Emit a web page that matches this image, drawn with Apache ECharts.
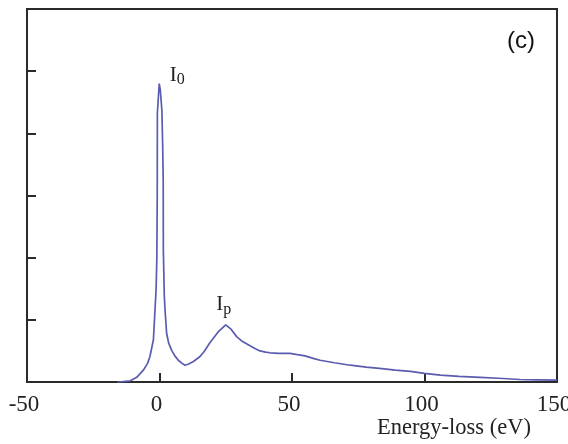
<!DOCTYPE html>
<html>
<head>
<meta charset="utf-8">
<script src="https://cdn.jsdelivr.net/npm/echarts@6/dist/echarts.min.js"></script>
<style>
  html, body { margin: 0; padding: 0; background: #fff; overflow: hidden; }
  #chart { width: 568px; height: 444px; }
</style>
</head>
<body>
<div id="chart"></div>
<script>
// EELS spectrum: energy loss (eV) vs intensity (arb. units)
const energy = [-16, -14.9, -13, -11, -8.6, -6.1, -4.5, -3.6, -2.3, -1.7, -1.3, -1.0, -0.85, -0.8,
  -0.1, 0.3, 0.9, 1.2, 1.4, 1.45, 1.8, 2.1, 2.7, 3.5, 4.6, 5.8, 7.1, 8.5, 9.6, 11, 12.8, 15.3,
  17, 19, 22.2, 25, 27, 29.1, 31, 33.5, 36, 37.9, 40, 41.7, 45, 49.2, 52, 54.9, 58, 60.6, 66,
  72, 78, 83, 89, 94.7, 100, 106, 113, 121, 128, 136, 143, 150];
const intensity = [0, 0, 0.01, 0.02, 0.075, 0.19, 0.3, 0.41, 0.68, 1.16, 1.48, 2.0, 3.0, 4.33,
  4.80, 4.7, 4.37, 3.8, 3.25, 2.12, 1.4, 1.15, 0.78, 0.62, 0.51, 0.42, 0.35, 0.3, 0.27, 0.29, 0.33, 0.41,
  0.5, 0.63, 0.81, 0.92, 0.85, 0.73, 0.66, 0.60, 0.54, 0.50, 0.48, 0.47, 0.46, 0.46, 0.44, 0.42, 0.38, 0.35, 0.31,
  0.27, 0.24, 0.22, 0.19, 0.17, 0.14, 0.11, 0.09, 0.075, 0.06, 0.04, 0.035, 0.03];
const xTicks = [-50, 0, 50, 100, 150];
// peak labels: zero-loss peak and plasmon peak
const peakNames = ['0', 'p'];
const peakIndex = [14, 35];

const serif = '"Liberation Serif", "DejaVu Serif", serif';
const axisColor = '#2a2a2a';

const chart = echarts.init(document.getElementById('chart'));
chart.setOption({
  animation: false,
  grid: {
    left: 27, right: 11, top: 9, bottom: 62,
    outerBoundsMode: 'none', containLabel: false,
    show: true, borderColor: axisColor, borderWidth: 2
  },
  xAxis: {
    type: 'value', min: xTicks[0], max: xTicks[xTicks.length - 1], interval: 50,
    axisLine: { show: true, onZero: false, lineStyle: { color: axisColor, width: 2 } },
    axisTick: { show: true, inside: true, length: 9, lineStyle: { color: axisColor, width: 2 } },
    axisLabel: {
      color: '#222', fontFamily: serif, fontSize: 23, margin: 11,
      padding: [0, 6, 0, 0],
      showMinLabel: true, showMaxLabel: true
    },
    splitLine: { show: false }
  },
  yAxis: {
    type: 'value', min: 0, max: 6, interval: 1,
    axisLine: { show: true, onZero: false, lineStyle: { color: axisColor, width: 2 } },
    axisTick: { show: true, inside: true, length: 9, lineStyle: { color: axisColor, width: 2 } },
    axisLabel: { show: false },
    splitLine: { show: false }
  },
  series: [{
    type: 'line',
    data: energy.map((e, i) => [e, intensity[i]]),
    showSymbol: false,
    lineStyle: { color: '#5b5cb0', width: 1.7 },
    markPoint: {
      symbol: 'circle', symbolSize: 1,
      itemStyle: { color: 'rgba(0,0,0,0)' },
      data: peakIndex.map((k, j) => ({
        coord: [energy[k], intensity[k]],
        label: {
          show: true,
          position: j === 0 ? [11, -19] : [-9, -31],
          formatter: '{a|I}{b|' + peakNames[j] + '}',
          rich: {
            a: { fontFamily: serif, fontSize: 21, color: '#222', lineHeight: 22 },
            b: { fontFamily: serif, fontSize: 16, color: '#222', padding: [10, 0, 0, 0], lineHeight: 22 }
          }
        }
      }))
    }
  }],
  graphic: [
    { type: 'text', left: 507, top: 29,
      style: { text: '(c)', font: '24px "Liberation Sans", "Noto Sans", sans-serif', fill: '#111' } },
    { type: 'text', left: 377, top: 417,
      style: { text: 'Energy-loss (eV)', font: '22.5px ' + serif, fill: '#222' } }
  ]
});
</script>
</body>
</html>
